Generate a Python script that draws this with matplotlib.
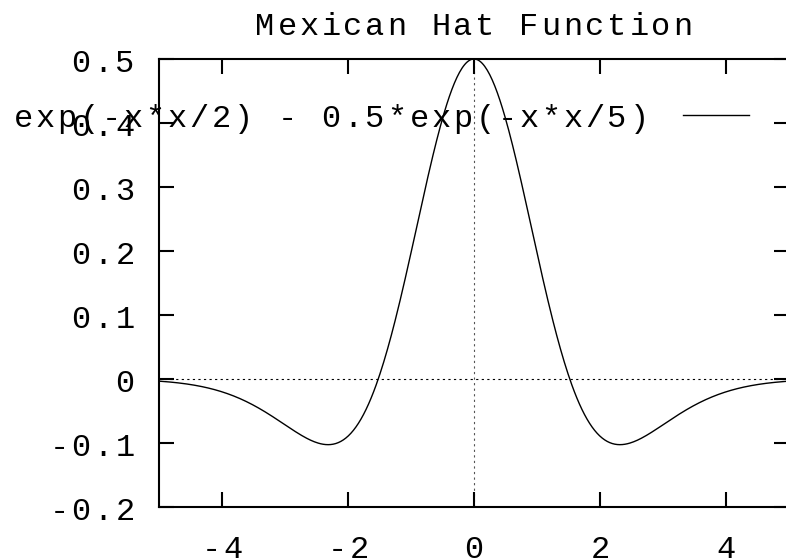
import numpy as np
import matplotlib
matplotlib.use("Agg")
import matplotlib.pyplot as plt
from matplotlib.lines import Line2D

# function as written in the key
func_label = "exp(-x*x/2) - 0.5*exp(-x*x/5)"
title = "Mexican Hat Function"
x_range = (-5, 5)
y_range = (-0.2, 0.5)
x_ticks = [-4, -2, 0, 2, 4]
x_tick_labels = ["-4", "-2", "0", "2", "4"]
y_ticks = [-0.2, -0.1, 0, 0.1, 0.2, 0.3, 0.4, 0.5]
y_tick_labels = ["-0.2", "-0.1", "0", "0.1", "0.2", "0.3", "0.4", "0.5"]

x = np.linspace(x_range[0], x_range[1], 500)
y = np.exp(-x * x / 2) - 0.5 * np.exp(-x * x / 5)

W, H = 786, 560
fs = 23       # font size in points
pitch = 22    # character cell width in pixels (wide gnuplot-style spacing)
plt.rcParams["font.family"] = ["Liberation Mono", "DejaVu Sans Mono"]

fig = plt.figure(figsize=(W / 100, H / 100), dpi=100)
ax = fig.add_axes([159 / W, 53 / H, 630 / W, 448 / H])


def mono_text(x0, y_base, s, align="left"):
    # place each character in its own fixed-width cell; coords are pixels
    # from the top-left corner, y_base is the baseline
    n = len(s)
    if align == "right":
        start = x0 - n * pitch
    elif align == "center":
        start = x0 - n * pitch / 2
    else:
        start = x0
    for i, ch in enumerate(s):
        if ch == " ":
            continue
        fig.text((start + (i + 0.5) * pitch) / W, 1 - y_base / H, ch,
                 ha="center", va="baseline", fontsize=fs)


ax.axhline(0, color="black", lw=0.8, ls=(0, (2, 3)), zorder=1)
ax.axvline(0, color="#555555", lw=0.8, ls=(0, (2, 3)), zorder=1)
ax.plot(x, y, color="black", lw=1.0, zorder=2)

ax.set_xlim(*x_range)
ax.set_ylim(*y_range)
ax.set_xticks(x_ticks)
ax.set_xticklabels([])
ax.set_yticks(y_ticks)
ax.set_yticklabels([])
ax.tick_params(direction="in", length=11, width=1.5, top=True, right=True)

for s in ax.spines.values():
    s.set_linewidth(1.5)

# tick labels, positioned from the data transform
for t, lab in zip(x_ticks, x_tick_labels):
    px, _ = ax.transData.transform((t, y_range[0]))
    mono_text(px, 558, lab, align="center")
for t, lab in zip(y_ticks, y_tick_labels):
    _, py = ax.transData.transform((x_range[0], t))
    mono_text(136, H - py + 13, lab, align="right")

mono_text(474, 35, title, align="center")

# key: label then sample line
mono_text(12, 127, func_label)
fig.add_artist(Line2D([683 / W, 749 / W], [1 - 115 / H, 1 - 115 / H],
                      color="black", lw=1.0, transform=fig.transFigure))

fig.savefig("out.png", dpi=100)
